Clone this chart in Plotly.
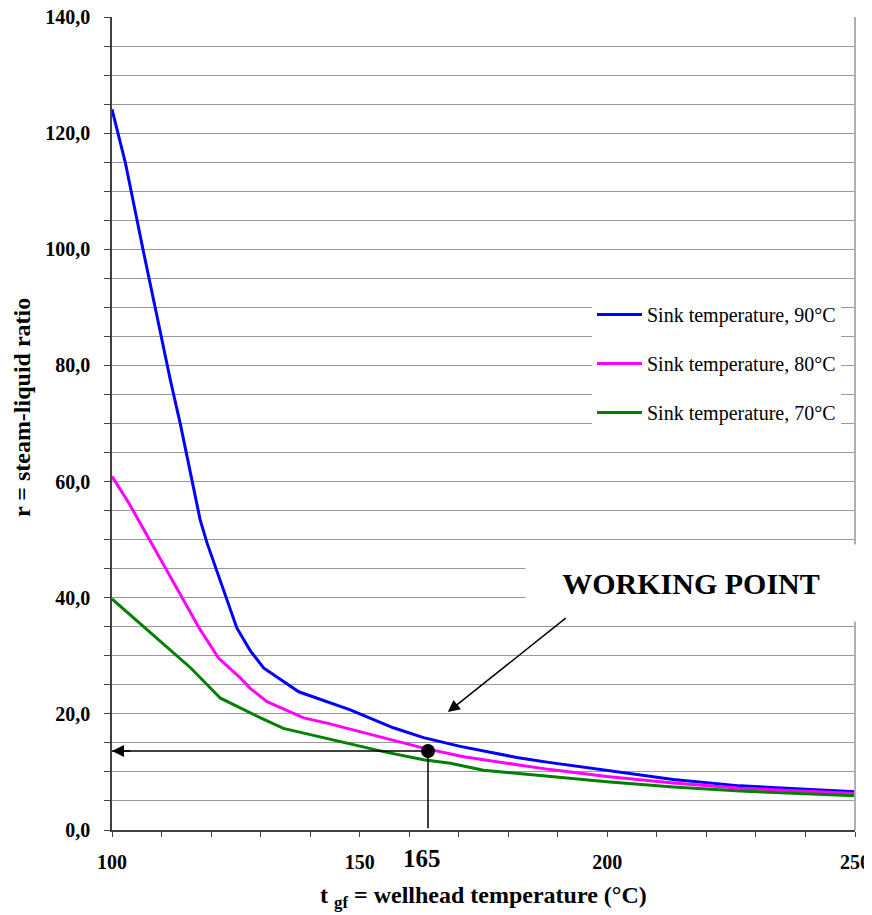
import plotly.graph_objects as go

# ---------------- data ----------------
t_90 = [100, 102.7, 106.3, 108.7, 111.8, 113.8, 117.8, 119.2, 122.9, 125.2, 127.9,
        130.6, 137.7, 148.1, 156.8, 162.9, 170.3, 181.7, 188.5, 199.9, 213.3, 226.8, 250]
r_90 = [124.1, 114.9, 99.8, 89.9, 77.4, 69.9, 53.4, 49.4, 40.2, 34.8, 30.9,
        27.9, 23.8, 20.7, 17.6, 15.9, 14.4, 12.5, 11.6, 10.3, 8.7, 7.6, 6.6]

t_80 = [100, 103.4, 117.8, 121.5, 125.9, 127.9, 131.3, 138.7, 143.4, 156.8,
        162.9, 171.0, 188.5, 199.9, 213.3, 226.8, 250]
r_80 = [60.9, 56.3, 34.5, 29.6, 26.2, 24.4, 22.1, 19.3, 18.4, 15.5,
        14.1, 12.6, 10.4, 9.2, 8.1, 7.2, 6.3]

t_70 = [100, 115.9, 121.9, 127.9, 130.0, 134.6, 144.7, 148.1, 154.8, 162.9,
        168.3, 175.0, 188.5, 199.9, 213.3, 226.8, 250]
r_70 = [39.8, 27.9, 22.7, 20.1, 19.3, 17.5, 15.5, 14.9, 13.5, 12.1,
        11.5, 10.3, 9.2, 8.3, 7.4, 6.7, 5.9]

series_names = ["Sink temperature, 90°C", "Sink temperature, 80°C", "Sink temperature, 70°C"]

working_t = [163.8]
working_r = [13.6]

y_tick_vals = [0, 20, 40, 60, 80, 100, 120, 140]
y_tick_text = ["0,0", "20,0", "40,0", "60,0", "80,0", "100,0", "120,0", "140,0"]
x_tick_vals = [100, 150, 200, 250]
x_tick_text = ["100", "150", "200", "250"]
wp_label = "165"
# ------------------------------------------------------------------------

FONT = "Liberation Serif"
colors = ["#0000FF", "#FF00FF", "#008000"]

# the page body adds an 8 px offset; the plot area in window pixels is 112..855 x 17..830
OFF = 8
W, H = 872 - OFF, 915 - OFF
L, T = 112 - OFF, 17 - OFF
R = 872 - 855
B = 915 - 830
PW, PH = W - L - R, H - T - B


def px(xp):
    return (xp - 112) / PW


def py(yp):
    return (830 - yp) / PH


fig = go.Figure()
for i, (xs, ys) in enumerate([(t_90, r_90), (t_80, r_80), (t_70, r_70)]):
    fig.add_trace(go.Scatter(
        x=xs, y=ys, mode="lines", name=series_names[i],
        line=dict(color=colors[i], width=3), legendgroup=f"g{i}"))

# vertical line from the working point down to the x axis
fig.add_trace(go.Scatter(x=[working_t[0], working_t[0]], y=[working_r[0], 0.3],
                         mode="lines", line=dict(color="black", width=1.5),
                         showlegend=False, hoverinfo="skip"))
# horizontal line from the working point to the y axis
fig.add_trace(go.Scatter(x=[working_t[0], 100], y=[working_r[0], working_r[0]],
                         mode="lines", line=dict(color="black", width=1.5),
                         showlegend=False, hoverinfo="skip"))
fig.add_trace(go.Scatter(x=working_t, y=working_r, mode="markers",
                         marker=dict(color="black", size=14),
                         showlegend=False, hoverinfo="skip"))

annotations = [
    # arrowhead at the y axis
    dict(x=100, y=working_r[0], ax=104, ay=working_r[0], xref="x", yref="y",
         axref="x", ayref="y", text="", showarrow=True, arrowhead=2,
         arrowsize=1.6, arrowwidth=1.5, arrowcolor="black"),
    # WORKING POINT label with white box hiding gridlines
    dict(x=216.9, y=42.5, xref="x", yref="y", text="<b>WORKING POINT</b>",
         showarrow=False, bgcolor="white", width=328, height=74,
         font=dict(family=FONT, size=30, color="black")),
    # arrow to the curve
    dict(x=167.8, y=20.3, ax=191.9, ay=36.7, xref="x", yref="y",
         axref="x", ayref="y", text="", showarrow=True, arrowhead=2,
         arrowsize=1.6, arrowwidth=1.5, arrowcolor="black"),
    # 165 label
    dict(x=162.6, y=py(858), xref="x", yref="paper", text="<b>" + wp_label + "</b>",
         showarrow=False, yanchor="middle",
         font=dict(family=FONT, size=25, color="black")),
    # x axis title
    dict(x=px(484), y=py(897), xref="paper", yref="paper",
         text="<b>t <sub>gf</sub> = wellhead temperature (°C)</b>",
         showarrow=False, yanchor="middle",
         font=dict(family=FONT, size=24, color="black")),
    # y axis title
    dict(x=px(22), y=py(408), xref="paper", yref="paper",
         text="<b>r = steam-liquid ratio</b>", textangle=-90,
         showarrow=False, xanchor="center", yanchor="middle",
         font=dict(family=FONT, size=24, color="black")),
]

fig.update_layout(
    width=W, height=H,
    margin=dict(l=L, r=R, t=T, b=B),
    paper_bgcolor="white", plot_bgcolor="white",
    font=dict(family=FONT, color="black"),
    showlegend=True,
    legend=dict(x=px(592), y=py(295), xanchor="left", yanchor="top",
                bgcolor="white", borderwidth=0, tracegroupgap=20, itemwidth=45,
                font=dict(family=FONT, size=20, color="black")),
    annotations=annotations,
    xaxis=dict(range=[100, 250], tickvals=x_tick_vals, ticktext=x_tick_text,
               automargin=False, ticklabeloverflow="allow",
               showgrid=False, zeroline=False, showline=True, linecolor="#404040",
               linewidth=2, ticks="outside", ticklen=5, tickcolor="#404040",
               ticklabelstandoff=8,
               tickfont=dict(family=FONT, size=20, weight="bold", color="black"),
               minor=dict(dtick=10, tick0=100, ticks="outside", ticklen=5,
                          tickcolor="#404040", showgrid=False)),
    yaxis=dict(range=[0, 140], tickvals=y_tick_vals, ticktext=y_tick_text,
               automargin=False, ticklabeloverflow="allow",
               showgrid=True, gridcolor="#999999", gridwidth=1, zeroline=False,
               showline=True, linecolor="#404040", linewidth=1.5,
               ticks="outside", ticklen=6, tickcolor="#404040",
               ticklabelstandoff=10,
               tickfont=dict(family=FONT, size=20, weight="bold", color="black"),
               minor=dict(dtick=5, tick0=0, ticks="outside", ticklen=6,
                          tickcolor="#404040", showgrid=True, gridcolor="#999999",
                          gridwidth=1)),
    shapes=[dict(type="line", xref="paper", yref="paper", x0=1, x1=1, y0=0, y1=1,
                 line=dict(color="#b0b0b0", width=2))],
)

fig.write_html("out.html")
